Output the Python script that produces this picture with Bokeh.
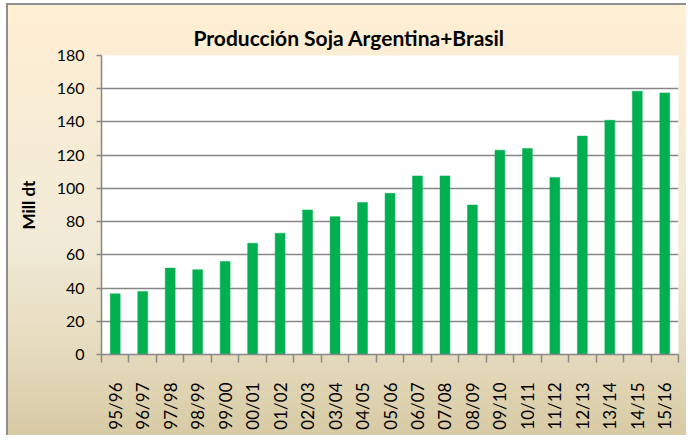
import math
from bokeh.plotting import figure
from bokeh.models import ColumnDataSource, FixedTicker, Range1d, LinearAxis, Grid
from bokeh.embed import file_html
from bokeh.resources import INLINE

# ---- data ----
campaigns = ["95/96", "96/97", "97/98", "98/99", "99/00", "00/01", "01/02",
             "02/03", "03/04", "04/05", "05/06", "06/07", "07/08", "08/09",
             "09/10", "10/11", "11/12", "12/13", "13/14", "14/15", "15/16"]
production = [36.5, 38, 52, 51, 56, 67, 73, 87, 83, 91.5, 97, 107.5, 107.5,
              90, 123, 124, 106.5, 131.5, 141, 158.5, 157.5]
y_ticks = [0, 20, 40, 60, 80, 100, 120, 140, 160, 180]

title_text = "Producción Soja Argentina+Brasil"
y_label = "Mill dt"

W, H = 686, 435
FONT = "Lato"
GRAY = "#878787"

n = len(campaigns)
xs = [i + 0.5 for i in range(n)]
src = ColumnDataSource(dict(x=xs, y=production))

p = figure(width=W, height=H, output_backend="svg", toolbar_location=None,
           x_range=Range1d(0, n), y_range=Range1d(0, 180),
           min_border_left=101, min_border_right=8, min_border_top=55,
           min_border_bottom=81, x_axis_type=None, y_axis_type=None)
p.background_fill_color = "white"
p.border_fill_color = None
p.outline_line_color = None

# chart-area background: gradient + frame line on left and top
p.styles = {
    "background": (
        "linear-gradient(#8f8f8f, #8f8f8f) 6px 3px / 2px 100% no-repeat, "
        "linear-gradient(#8f8f8f, #8f8f8f) 6px 3px / 100% 2px no-repeat, "
        "linear-gradient(to bottom, #FFEFD3 0%, #F6ECD6 35%, #F1EAD6 55%, "
        "#E6DCBF 78%, #D7C9A3 100%) 8px 5px / 100% 100% no-repeat, white"
    )
}

# title
p.title.text = title_text
p.title.text_font = FONT
p.title.text_font_style = "bold"
p.title.text_font_size = "21px"
p.title.text_color = "black"
p.title.align = "left"
p.title.offset = 92
p.title.standoff = 11

# bars
p.vbar(x="x", top="y", width=0.36, bottom=0, source=src,
       fill_color="#00B050", line_color="#00B050", line_width=0.5)

# y axis
yax = LinearAxis(ticker=FixedTicker(ticks=y_ticks, minor_ticks=[]))
yax.axis_line_color = GRAY
yax.axis_line_width = 1.5
yax.major_tick_line_color = GRAY
yax.major_tick_line_width = 1.5
yax.major_tick_in = 0
yax.major_tick_out = 5
yax.minor_tick_line_color = None
yax.major_label_standoff = 12
yax.major_label_text_font = FONT
yax.major_label_text_font_size = "16px"
yax.major_label_text_color = "black"
yax.axis_label = y_label
yax.axis_label_text_font = FONT
yax.axis_label_text_font_style = "bold"
yax.axis_label_text_font_size = "17px"
yax.axis_label_text_color = "black"
yax.axis_label_standoff = 15
p.add_layout(yax, "left")

# x axis: labels at category centres, tick marks at category boundaries
xax = LinearAxis(ticker=FixedTicker(ticks=xs, minor_ticks=list(range(n + 1))))
xax.major_label_overrides = {x: lab for x, lab in zip(xs, campaigns)}
xax.axis_line_color = GRAY
xax.axis_line_width = 1.5
xax.major_tick_line_color = None
xax.major_tick_in = 0
xax.major_tick_out = 0
xax.minor_tick_line_color = GRAY
xax.minor_tick_line_width = 1.5
xax.minor_tick_in = 0
xax.minor_tick_out = 8
xax.major_label_orientation = math.pi / 2
xax.major_label_standoff = 20
xax.major_label_text_font = FONT
xax.major_label_text_font_size = "17px"
xax.major_label_text_color = "black"
p.add_layout(xax, "below")

# horizontal grid
p.add_layout(Grid(dimension=1, ticker=yax.ticker, grid_line_color=GRAY,
                  grid_line_width=1.5))

open("out.html", "w").write(file_html(p, INLINE))
